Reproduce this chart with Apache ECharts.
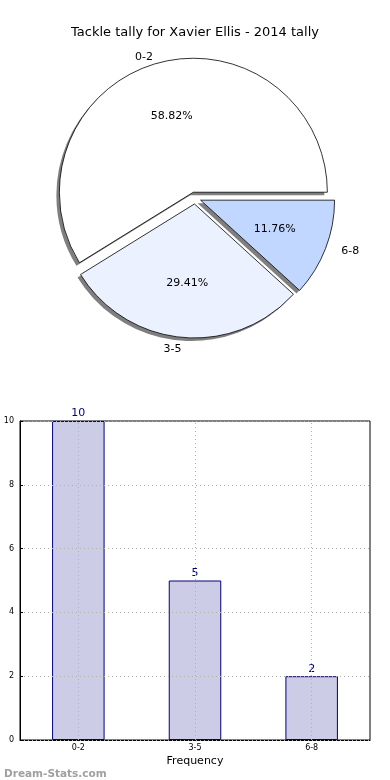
<!DOCTYPE html>
<html><head><meta charset="utf-8">
<script src="https://cdn.jsdelivr.net/npm/echarts@6/dist/echarts.min.js"></script>
<style>html,body{margin:0;padding:0;background:#fff}#c{width:390px;height:780px}</style>
</head><body><div id="c"></div>
<script>
const categories = ['0-2', '3-5', '6-8'];
const counts = [10, 5, 2];
const pieColors = ['#ffffff', '#ebf1ff', '#c2d7ff'];
const yTicks = [0, 2, 4, 6, 8, 10];
const namePads = [[0, 22, 0, 0], [0, 18, 0, 0], [0, 0, 0, 38]];
const nameFormats = ['{b}', '\n{b}', '{b}'];

const total = counts.reduce((a, b) => a + b, 0);
const pieData = categories.map((c, i) => ({ name: c, value: counts[i], selected: true, itemStyle: { color: pieColors[i] } }));
const ghost = categories.map((c, i) => ({ name: c, value: counts[i], selected: true }));
const nameGhost = categories.map((c, i) => ({ name: c, value: counts[i], selected: true, label: { padding: namePads[i], formatter: nameFormats[i], lineHeight: 11 } }));
const R = 134;
const center = [195, 198];
const shadowCenter = [center[0] - 3, center[1] + 3];
const font = 'DejaVu Sans';

const pieBase = { type: 'pie', startAngle: 0, clockwise: false, selectedMode: 'multiple', selectedOffset: 6, silent: true, emphasis: { disabled: true }, labelLine: { show: false } };

const chart = echarts.init(document.getElementById('c'));
chart.setOption({
  animation: false,
  textStyle: { fontFamily: font },
  title: [
    { text: 'Tackle tally for Xavier Ellis - 2014 tally', left: 'center', top: 21, textStyle: { fontSize: 13, fontWeight: 'normal', color: '#000', fontFamily: font } },
    { text: 'Dream-Stats.com', left: -1, top: 764, textStyle: { fontSize: 10.5, fontWeight: 'bold', color: '#a0a0a0', fontFamily: font } }
  ],
  grid: { left: 20, right: 20, top: 421, bottom: 40, show: true, borderColor: '#000', borderWidth: 1, containLabel: false },
  xAxis: {
    type: 'category', data: categories,
    name: 'Frequency', nameLocation: 'middle', nameGap: 16,
    nameTextStyle: { fontSize: 11, color: '#000', fontFamily: font },
    axisLine: { lineStyle: { color: '#000' } },
    axisTick: { show: false },
    axisLabel: { fontSize: 8, color: '#000', margin: 4 },
    splitLine: { show: false }
  },
  yAxis: {
    type: 'value', min: 0, max: 10, interval: 2, z: 5,
    axisLine: { show: true, lineStyle: { color: '#000' } },
    axisTick: { show: true, inside: true, length: 3, lineStyle: { color: '#000' } },
    axisLabel: { fontSize: 8, color: '#000', margin: 6, formatter: v => yTicks.includes(v) ? String(v) : '' },
    splitLine: { show: true, lineStyle: { color: '#b0b0b0', type: [1, 3], width: 1 } }
  },
  series: [
    Object.assign({}, pieBase, {
      radius: R, center: shadowCenter, z: 1,
      data: ghost,
      itemStyle: { color: '#7f7f7f', borderWidth: 0 },
      label: { show: false }
    }),
    Object.assign({}, pieBase, {
      radius: R, center: center, z: 2,
      data: pieData,
      itemStyle: { borderColor: '#000', borderWidth: 0.8 },
      label: { show: false }
    }),
    Object.assign({}, pieBase, {
      radius: R * 1.14, center: center, z: 4,
      data: ghost,
      itemStyle: { color: 'rgba(0,0,0,0)', borderWidth: 0 },
      label: { show: true, position: 'inside', fontSize: 11, color: '#000', fontFamily: font,
        formatter: p => (p.value / total * 100).toFixed(2) + '%' }
    }),
    Object.assign({}, pieBase, {
      radius: 274, center: center, z: 4,
      data: nameGhost,
      itemStyle: { color: 'rgba(0,0,0,0)', borderWidth: 0 },
      label: { show: true, position: 'inside', fontSize: 11, color: '#000', fontFamily: font }
    }),
    {
      type: 'bar', data: counts, barWidth: '45%', z: 2,
      itemStyle: { color: '#ccccE6', borderColor: '#000080', borderWidth: 1 },
      label: { show: true, position: 'top', fontSize: 11, color: '#000080', distance: 2 },
      markLine: {
        silent: true, symbol: 'none', label: { show: false },
        lineStyle: { color: '#b0b0b0', type: [1, 3], width: 1 },
        data: categories.map(c => ({ xAxis: c }))
      }
    }
  ]
});
</script></body></html>
